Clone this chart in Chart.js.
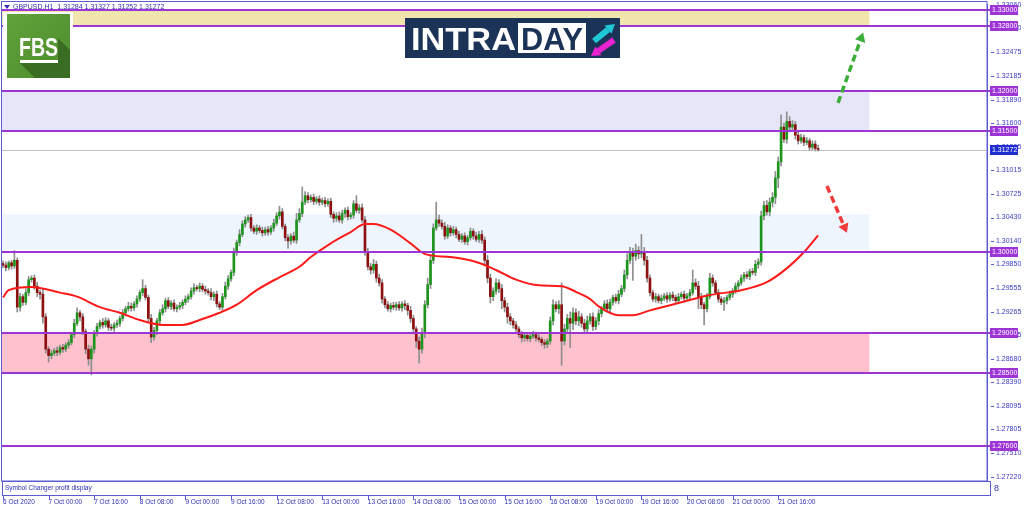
<!DOCTYPE html>
<html>
<head>
<meta charset="utf-8">
<script src="https://cdn.jsdelivr.net/npm/chart.js@4.4.1/dist/chart.umd.min.js"></script>
<style>
html, body { margin: 0; padding: 0; background: #fff; overflow: hidden; }
canvas { display: block; }
</style>
</head>
<body>
<canvas id="priceChart" width="1024" height="511"></canvas>
<script>
// GBPUSD H1, one close per hourly bar (6 Oct 08:00 -> 22 Oct 06:00)
const closes = [
  1.2984,1.2981,1.2987,1.2983,1.2990,1.2932,1.2945,1.2938,1.2950,1.2966,1.2968,1.2958,1.2950,1.2948,1.2920,1.2880,
  1.2872,1.2875,1.2878,1.2876,1.2882,1.2880,1.2885,1.2888,1.2898,1.2912,1.2925,1.2920,1.2902,1.2880,1.2868,1.2880,
  1.2900,1.2908,1.2913,1.2910,1.2915,1.2907,1.2906,1.2910,1.2912,1.2918,1.2925,1.2930,1.2933,1.2931,1.2936,1.2942,
  1.2950,1.2955,1.2944,1.2918,1.2895,1.2903,1.2915,1.2925,1.2930,1.2940,1.2933,1.2937,1.2930,1.2932,1.2934,1.2938,
  1.2942,1.2945,1.2952,1.2956,1.2955,1.2958,1.2954,1.2952,1.2950,1.2945,1.2948,1.2936,1.2932,1.2945,1.2958,1.2967,
  1.2975,1.3001,1.3012,1.3022,1.3035,1.3040,1.3043,1.3030,1.3026,1.3030,1.3027,1.3024,1.3028,1.3025,1.3030,1.3036,
  1.3045,1.3050,1.3032,1.3018,1.3014,1.3020,1.3015,1.3040,1.3048,1.3062,1.3070,1.3065,1.3068,1.3063,1.3066,1.3062,
  1.3064,1.3060,1.3063,1.3047,1.3042,1.3045,1.3040,1.3048,1.3052,1.3044,1.3046,1.3060,1.3052,1.3055,1.3040,1.3000,
  1.2982,1.2978,1.2985,1.2968,1.2962,1.2942,1.2935,1.2930,1.2934,1.2932,1.2935,1.2931,1.2936,1.2934,1.2928,1.2918,
  1.2905,1.2890,1.2880,1.2900,1.2935,1.2960,1.2990,1.3030,1.3040,1.3036,1.3032,1.3020,1.3030,1.3024,1.3028,1.3022,
  1.3016,1.3020,1.3013,1.3018,1.3026,1.3020,1.3016,1.3022,1.3015,1.2990,1.2968,1.2945,1.2952,1.2962,1.2955,1.2940,
  1.2932,1.2920,1.2915,1.2910,1.2905,1.2898,1.2894,1.2897,1.2893,1.2896,1.2898,1.2894,1.2892,1.2888,1.2886,1.2890,
  1.2915,1.2935,1.2930,1.2935,1.2890,1.2905,1.2918,1.2912,1.2925,1.2915,1.2920,1.2912,1.2905,1.2915,1.2920,1.2908,
  1.2915,1.2924,1.2930,1.2936,1.2930,1.2938,1.2944,1.2940,1.2948,1.2955,1.2972,1.2990,1.2999,1.2995,1.3002,1.2998,
  1.3000,1.2990,1.2968,1.2950,1.2942,1.2945,1.2940,1.2943,1.2946,1.2942,1.2947,1.2944,1.2940,1.2945,1.2948,1.2943,
  1.2946,1.2950,1.2962,1.2958,1.2945,1.2935,1.2930,1.2945,1.2968,1.2962,1.2950,1.2942,1.2938,1.2940,1.2944,1.2948,
  1.2952,1.2958,1.2962,1.2968,1.2972,1.2970,1.2976,1.2975,1.2985,1.2988,1.3045,1.3058,1.3050,1.3062,1.3068,1.3092,
  1.3112,1.3155,1.3140,1.3162,1.3155,1.3158,1.3145,1.3138,1.3142,1.3136,1.3138,1.3130,1.3134,1.31284,1.31272
];
const firstOpen = 1.2986;
// wick length above / below the body, in pips
const wickUp = [
  3,4,2,3,12,3,4,3,5,4,3,4,5,3,6,4,
  3,4,3,5,3,4,3,4,3,5,6,3,4,3,5,4,
  3,4,3,5,4,3,4,3,4,3,4,3,5,4,3,4,
  3,11,4,3,5,4,3,4,5,3,4,3,4,3,4,3,
  4,3,4,5,3,4,3,4,3,5,3,4,3,4,5,4,
  3,4,3,6,4,4,3,4,3,4,3,4,3,4,3,5,
  4,7,4,3,4,3,5,8,6,19,5,4,3,4,3,4,
  3,4,3,4,3,4,5,4,3,4,3,4,10,4,5,4,
  5,4,6,4,5,4,3,4,3,4,3,4,3,4,3,5,
  4,3,5,6,5,8,6,5,22,6,4,5,4,3,4,3,
  4,3,4,3,4,3,5,4,5,4,6,5,4,5,4,5,
  4,5,4,3,4,3,4,3,4,3,4,3,4,3,4,3,
  5,6,4,5,27,6,5,8,6,5,7,4,5,6,4,5,
  4,5,3,4,5,4,3,4,5,4,6,8,7,6,8,5,
  22,6,5,4,3,4,3,4,3,4,3,4,3,4,3,4,
  3,4,16,5,6,4,3,4,6,4,3,4,3,4,3,4,
  3,4,3,4,3,4,3,4,5,4,6,5,6,5,6,8,
  6,15,5,12,6,5,4,5,4,3,4,3,4,4,4.3
];
const wickDn = [
  3,4,3,4,3,6,5,4,3,4,3,4,5,6,8,5,
  8,4,3,4,3,4,3,4,3,4,3,5,4,6,8,20,
  5,4,3,4,3,4,3,4,3,4,3,4,3,4,3,4,
  3,4,3,4,7,4,5,4,3,4,3,4,3,4,3,4,
  3,4,3,4,3,4,3,4,3,4,5,4,3,4,3,4,
  3,4,5,4,3,4,3,4,3,4,3,4,3,4,3,4,
  3,4,3,4,9,4,3,4,3,4,3,4,3,4,3,4,
  3,4,3,4,5,4,3,4,5,4,3,4,3,4,3,4,
  4,5,4,5,4,5,4,3,4,3,4,3,4,5,6,5,
  6,8,17,5,6,4,5,4,3,4,3,4,3,4,3,4,
  3,4,3,4,3,4,3,4,4,5,6,8,5,4,5,10,
  6,8,5,4,3,4,5,4,3,4,3,4,3,4,5,4,
  4,5,4,6,30,5,6,30,8,5,6,5,6,5,4,5,
  4,5,4,3,4,5,4,3,4,3,4,5,4,30,5,6,
  5,6,5,4,3,4,3,4,3,4,3,4,3,4,3,4,
  3,4,3,4,15,5,20,4,3,4,3,4,3,10,4,3,
  4,3,4,3,4,3,4,3,4,5,4,5,4,5,6,8,
  12,5,4,5,6,4,5,4,3,4,3,4,3,3,2
];
// moving average (bar index -> value)
const maIdx = [0,2,10,20,26,34,41,48,56,63,69,76,82,89,97,104,108,115,122,127,130,136,143,148,157,166,173,180,188,196,201,206,209,216,221,227,238,248,259,268,275,281,286];
const maVals = [1.2944,1.2953,1.2957,1.2950,1.2945,1.2932,1.2925,1.2916,1.2910,1.2910,1.2916,1.2925,1.2935,1.2953,1.2969,1.2982,1.2994,1.3011,1.3025,1.3035,1.3035,1.3028,1.3011,1.2998,1.2994,1.2988,1.2978,1.2966,1.2959,1.2958,1.2951,1.2942,1.2933,1.2922,1.2922,1.2928,1.2938,1.2947,1.2953,1.2963,1.2980,1.3000,1.3021];

const dayLabels = ['6 Oct 2020','7 Oct 00:00','7 Oct 16:00','8 Oct 08:00','9 Oct 00:00','9 Oct 16:00','12 Oct 08:00','13 Oct 00:00','13 Oct 16:00','14 Oct 08:00','15 Oct 00:00','15 Oct 16:00','16 Oct 08:00','19 Oct 00:00','19 Oct 16:00','20 Oct 08:00','21 Oct 00:00','21 Oct 16:00'];
const priceTicks = [1.33060,1.32770,1.32475,1.32185,1.31890,1.31600,1.31305,1.31015,1.30725,1.30430,1.30140,1.29850,1.29555,1.29265,1.28975,1.28680,1.28390,1.28095,1.27805,1.27510,1.27220];
const levels = [1.33, 1.328, 1.32, 1.315, 1.30, 1.29, 1.285, 1.276];
const zones = [[1.328, 1.33], [1.315, 1.32], [1.3003, 1.3047], [1.285, 1.29]];
const zoneEnd = 304;
const arrows = [[293, 1.3185, 301.8, 1.3272], [289.1, 1.3082, 296.1, 1.3024]];

const n = closes.length;
const opens = closes.map((c, i) => i === 0 ? firstOpen : closes[i - 1]);
const highs = closes.map((c, i) => Math.max(opens[i], c) + wickUp[i] / 10000);
const lows = closes.map((c, i) => Math.min(opens[i], c) - wickDn[i] / 10000);

const AXIS_BLUE = '#5a5ad2';
const TEXT_BLUE = '#2e2eb4';

function drawArrow(ctx, x1, y1, x2, y2, color, w, head, dash) {
  const a = Math.atan2(y2 - y1, x2 - x1);
  const bx = x2 - head * Math.cos(a), by = y2 - head * Math.sin(a);
  ctx.save();
  ctx.strokeStyle = color;
  ctx.fillStyle = color;
  ctx.lineWidth = w;
  ctx.setLineDash(dash || []);
  ctx.beginPath();
  ctx.moveTo(x1, y1);
  ctx.lineTo(bx, by);
  ctx.stroke();
  ctx.setLineDash([]);
  ctx.beginPath();
  ctx.moveTo(x2, y2);
  ctx.lineTo(bx + head * 0.6 * Math.sin(a), by - head * 0.6 * Math.cos(a));
  ctx.lineTo(bx - head * 0.6 * Math.sin(a), by + head * 0.6 * Math.cos(a));
  ctx.closePath();
  ctx.fill();
  ctx.restore();
}

// text squeezed or stretched to an exact width
function fitText(ctx, text, x, y, w) {
  const m = ctx.measureText(text).width;
  ctx.save();
  ctx.translate(x, y);
  ctx.scale(w / m, 1);
  ctx.fillText(text, 0, 0);
  ctx.restore();
}

function drawFbsLogo(ctx) {
  ctx.fillStyle = '#fff';
  ctx.fillRect(3, 12, 70, 68);
  const g = ctx.createLinearGradient(7, 14, 70, 78);
  g.addColorStop(0, '#63a33c');
  g.addColorStop(1, '#4b8b2b');
  ctx.fillStyle = g;
  ctx.fillRect(7, 14, 63, 64);
  ctx.fillStyle = '#3a6c22';
  ctx.beginPath();
  ctx.moveTo(20, 63); ctx.lineTo(58, 63); ctx.lineTo(58, 38);
  ctx.lineTo(70, 50); ctx.lineTo(70, 78); ctx.lineTo(35, 78);
  ctx.closePath();
  ctx.fill();
  ctx.fillStyle = '#fff';
  ctx.font = 'bold 25px "Liberation Sans"';
  ctx.textAlign = 'left';
  ctx.textBaseline = 'alphabetic';
  fitText(ctx, 'FBS', 19, 56, 39);
  ctx.fillRect(20, 60, 38, 3);
}

function drawIntradayLogo(ctx) {
  ctx.fillStyle = '#1c3358';
  ctx.fillRect(405, 18, 215, 40);
  ctx.fillStyle = '#fff';
  ctx.fillRect(518, 23, 68, 30);
  ctx.font = 'bold 31px "Liberation Sans"';
  ctx.textAlign = 'left';
  ctx.textBaseline = 'alphabetic';
  fitText(ctx, 'INTRA', 411, 50, 105);
  ctx.fillStyle = '#1c3358';
  fitText(ctx, 'DAY', 521, 50, 62);
  drawArrow(ctx, 594, 41, 615, 24, '#1fc8d4', 6, 9);
  drawArrow(ctx, 614, 40, 591, 56, '#ea22cf', 6, 9);
}

function labelBox(ctx, y, text, bg) {
  ctx.fillStyle = bg;
  ctx.fillRect(990, Math.round(y) - 5, 28, 10);
  ctx.fillStyle = '#fff';
  ctx.font = '7px "Liberation Sans"';
  ctx.textAlign = 'left';
  ctx.textBaseline = 'middle';
  ctx.fillText(text, 992, Math.round(y) + 0.5);
}

function noPadding(s) {
  s.paddingLeft = 0; s.paddingRight = 0; s.paddingTop = 0; s.paddingBottom = 0;
}

const overlay = {
  id: 'overlay',
  beforeDatasetsDraw(chart) {
    const { ctx, chartArea: a, scales: { x, y } } = chart;
    ctx.save();
    const fills = ['#efe5ad', '#e6e6f8', '#eef5fd', '#ffc2cc'];
    zones.forEach(([lo, hi], k) => {
      const top = y.getPixelForValue(hi), bot = y.getPixelForValue(lo);
      ctx.fillStyle = fills[k];
      ctx.fillRect(a.left, top, x.getPixelForValue(zoneEnd) - a.left, bot - top);
    });
    const py = Math.round(y.getPixelForValue(closes[n - 1])) + 0.5;
    ctx.strokeStyle = '#c3c3c3';
    ctx.lineWidth = 1;
    ctx.beginPath();
    ctx.moveTo(a.left, py);
    ctx.lineTo(a.right, py);
    ctx.stroke();
    ctx.restore();
  },
  afterDatasetsDraw(chart) {
    const { ctx, chartArea: a, scales: { x, y } } = chart;
    ctx.save();
    ctx.strokeStyle = '#9d34d6';
    ctx.lineWidth = 2;
    levels.forEach(v => {
      const py = Math.round(y.getPixelForValue(v));
      ctx.beginPath();
      ctx.moveTo(a.left, py);
      ctx.lineTo(a.right + 3, py);
      ctx.stroke();
    });
    const arrowCols = ['#3aae36', '#f23b3b'];
    arrows.forEach(([i1, p1, i2, p2], k) => {
      drawArrow(ctx, x.getPixelForValue(i1), y.getPixelForValue(p1),
        x.getPixelForValue(i2), y.getPixelForValue(p2), arrowCols[k], 3.5, 9, [7, 4]);
    });
    ctx.restore();
  },
  afterDraw(chart) {
    const { ctx, chartArea: a, scales: { x, y } } = chart;
    ctx.save();
    // frame
    ctx.strokeStyle = AXIS_BLUE;
    ctx.lineWidth = 1;
    ctx.strokeRect(1.5, 1.5, a.right - 1.5, a.bottom - 1.5);
    drawFbsLogo(ctx);
    drawIntradayLogo(ctx);
    // header
    const f = v => v.toFixed(5);
    ctx.fillStyle = TEXT_BLUE;
    ctx.beginPath();
    ctx.moveTo(4, 5); ctx.lineTo(10, 5); ctx.lineTo(7, 9); ctx.closePath();
    ctx.fill();
    ctx.font = '7px "Liberation Sans"';
    ctx.textAlign = 'left';
    ctx.textBaseline = 'middle';
    ctx.fillText('GBPUSD.H1  ' + f(opens[n - 1]) + ' ' + f(highs[n - 1]) + ' ' + f(lows[n - 1]) + ' ' + f(closes[n - 1]), 13, 7);
    // y tick marks
    ctx.strokeStyle = AXIS_BLUE;
    priceTicks.forEach(v => {
      const py = Math.round(y.getPixelForValue(v)) + 0.5;
      ctx.beginPath();
      ctx.moveTo(991, py);
      ctx.lineTo(994, py);
      ctx.stroke();
    });
    // level labels
    levels.forEach(v => labelBox(ctx, y.getPixelForValue(v), f(v), '#9d34d6'));
    labelBox(ctx, y.getPixelForValue(closes[n - 1]), f(closes[n - 1]), '#1f2ccf');
    // info box
    ctx.fillStyle = '#fff';
    ctx.fillRect(2, 481, 989, 15);
    ctx.strokeStyle = AXIS_BLUE;
    ctx.strokeRect(2.5, 481.5, 988, 14);
    ctx.fillStyle = TEXT_BLUE;
    ctx.font = '6.5px "Liberation Sans"';
    ctx.textBaseline = 'middle';
    ctx.fillText('Symbol Changer profit display', 5, 488.5);
    ctx.font = '9px "Liberation Sans"';
    ctx.fillText('8', 994, 489);
    // x tick marks
    dayLabels.forEach((_, k) => {
      const px = Math.round(x.getPixelForValue(k * 16)) + 0.5;
      ctx.beginPath();
      ctx.moveTo(px, 496);
      ctx.lineTo(px, 500);
      ctx.stroke();
    });
    ctx.restore();
  }
};

const ctx = document.getElementById('priceChart').getContext('2d');
const priceChart = new Chart(ctx, {
  type: 'bar',
  data: {
    datasets: [
      {
        type: 'line',
        data: maIdx.map((i, k) => ({ x: i, y: maVals[k] })),
        borderColor: '#ff1a1a',
        borderWidth: 2,
        pointRadius: 0,
        cubicInterpolationMode: 'monotone',
        order: 0
      },
      {
        data: closes.map((c, i) => ({ x: i, y: [opens[i], c] })),
        backgroundColor: closes.map((c, i) => c >= opens[i] ? '#1d951d' : '#8c1010'),
        barThickness: 2,
        minBarLength: 1,
        grouped: false,
        order: 1
      },
      {
        data: closes.map((c, i) => ({ x: i, y: [lows[i], highs[i]] })),
        backgroundColor: '#8e8e8e',
        barThickness: 1,
        grouped: false,
        order: 2
      }
    ]
  },
  options: {
    responsive: false,
    animation: false,
    events: [],
    layout: { padding: { left: 2, top: 4, right: 0, bottom: 0 } },
    plugins: { legend: { display: false }, tooltip: { enabled: false } },
    scales: {
      x: {
        type: 'linear',
        min: -0.35,
        max: 345.25,
        offset: false,
        grid: { display: false, drawTicks: false },
        border: { display: false },
        afterBuildTicks: s => { s.ticks = dayLabels.map((_, k) => ({ value: k * 16 })); },
        afterFit: s => { s.height = 30; noPadding(s); },
        ticks: {
          autoSkip: false,
          maxRotation: 0,
          align: 'start',
          padding: 17,
          color: TEXT_BLUE,
          font: { family: 'Liberation Sans', size: 6.5 },
          callback: v => dayLabels[Math.round(v / 16)] || ''
        }
      },
      y: {
        position: 'right',
        min: 1.27167,
        max: 1.33074,
        grid: { display: false, drawTicks: false },
        border: { display: true, color: AXIS_BLUE, width: 1 },
        afterBuildTicks: s => { s.ticks = priceTicks.map(v => ({ value: v })); },
        afterFit: s => { s.width = 37; noPadding(s); },
        ticks: {
          autoSkip: false,
          padding: 9,
          color: '#3a3ac6',
          font: { family: 'Liberation Sans', size: 7 },
          callback: v => v.toFixed(5)
        }
      }
    }
  },
  plugins: [overlay]
});
</script>
</body>
</html>
